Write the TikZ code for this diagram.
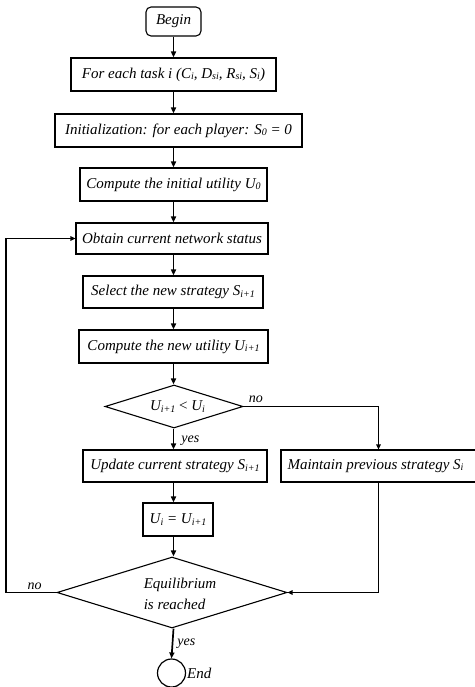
\documentclass[tikz,border=0pt]{standalone}
\usepackage{fontspec}
\setmainfont{Liberation Serif}
\usetikzlibrary{arrows.meta,shapes.geometric}
\newcommand\sbs[1]{\raisebox{-1.6pt}{\fontsize{10}{10}\selectfont #1}}
\begin{document}
\begin{tikzpicture}[x=1pt,y=-1pt,
  every node/.style={font=\fontsize{15}{18}\selectfont\itshape},
  box/.style={draw,line width=1.1pt,inner sep=0pt,anchor=center},
  dia/.style={draw,diamond,line width=1.1pt,inner sep=0pt},
  flow/.style={line width=1.7pt,-{Triangle[length=6pt,width=5pt]}},
  loop/.style={line width=1.2pt,-{Triangle[length=5pt,width=4.5pt]}},
  lbl/.style={font=\fontsize{14}{16}\selectfont\itshape,inner sep=0pt}]
\useasboundingbox (0,0) rectangle (474,687);
\fill[white] (0,0) rectangle (474,687);
\coordinate (ax) at (173.5,0);
\node[box,rounded corners=5pt,minimum width=55pt,minimum height=29pt] (begin) at (173.5,21.5) {Begin};
\node[box,minimum width=205pt,minimum height=33pt] (b2) at (173.5,74.5) {For each task i (C\sbs{i}, D\sbs{si}, R\sbs{si}, S\sbs{i})};
\node[box,minimum width=247pt,minimum height=33pt] (b3) at (178.5,130.5) {Initialization: for each player: S\sbs{0} = 0};
\node[box,minimum width=187pt,minimum height=33pt] (b4) at (173.5,184.5) {Compute the initial utility U\sbs{0}};
\node[box,minimum width=192pt,minimum height=31pt] (b5) at (172,238.5) {Obtain current network status};
\node[box,minimum width=180pt,minimum height=32pt] (b6) at (173,292) {Select the new strategy S\sbs{i+1}};
\node[box,minimum width=189pt,minimum height=33pt] (b7) at (173.5,346.5) {Compute the new utility U\sbs{i+1}};
\node[dia,aspect=3.2,minimum width=138pt,minimum height=43pt] (d1) at (174,406.5) {\hspace*{7pt}U\sbs{i+1} {\upshape<} U\sbs{i}};
\node[box,minimum width=184pt,minimum height=32pt] (b8) at (175,466) {Update current strategy S\sbs{i+1}};
\node[box,minimum width=195pt,minimum height=32pt] (b9) at (378.5,466) {\hspace*{-6pt}Maintain previous strategy S\sbs{i}};
\node[box,minimum width=70pt,minimum height=33pt] (b10) at (178,519.5) {U\sbs{i} = U\sbs{i+1}};
\node[dia,aspect=3.24,minimum width=230pt,minimum height=71pt,
  label={[align=left,xshift=8pt,yshift=-1pt,inner sep=0pt,font=\fontsize{15}{21}\selectfont\itshape]center:Equilibrium\\is reached}] (d2) at (172,592.5) {};
\node[draw,circle,line width=1.2pt,minimum size=28pt,inner sep=0pt] (end) at (171.5,673) {};
\node[anchor=west,inner sep=0pt] (endt) at (187,673) {End};
\coordinate (lp) at (6,592.5);
% flow
\draw[flow] (ax |- begin.south) -- (ax |- b2.north);
\draw[flow] (ax |- b2.south) -- (ax |- b3.north);
\draw[flow] (ax |- b3.south) -- (ax |- b4.north);
\draw[flow] (ax |- b4.south) -- (ax |- b5.north);
\draw[flow] (ax |- b5.south) -- (ax |- b6.north);
\draw[flow] (ax |- b6.south) -- (ax |- b7.north);
\draw[flow] (ax |- b7.south) -- (ax |- d1.north);
\draw[flow] (ax |- d1.south) -- (ax |- b8.north) node[lbl,midway,anchor=west,xshift=7pt,yshift=-2pt] (y1) {yes};
\draw[flow] (ax |- b8.south) -- (ax |- b10.north);
\draw[flow] (ax |- b10.south) -- (ax |- d2.north);
\draw[flow] (ax |- d2.south) -- (end.north) node[lbl,midway,anchor=west,xshift=4pt] (y2) {yes};
\draw[loop] (d1.east) -| (b9.north);
\node[lbl,anchor=south west] (n1) at ([xshift=5pt,yshift=4pt]d1.east) {no};
\draw[loop] (b9.south) |- (d2.east);
\draw[loop] (d2.west) -- (lp) |- (b5.west);
\node[lbl,anchor=south] (n2) at (34.5,590) {no};
\end{tikzpicture}
\end{document}
